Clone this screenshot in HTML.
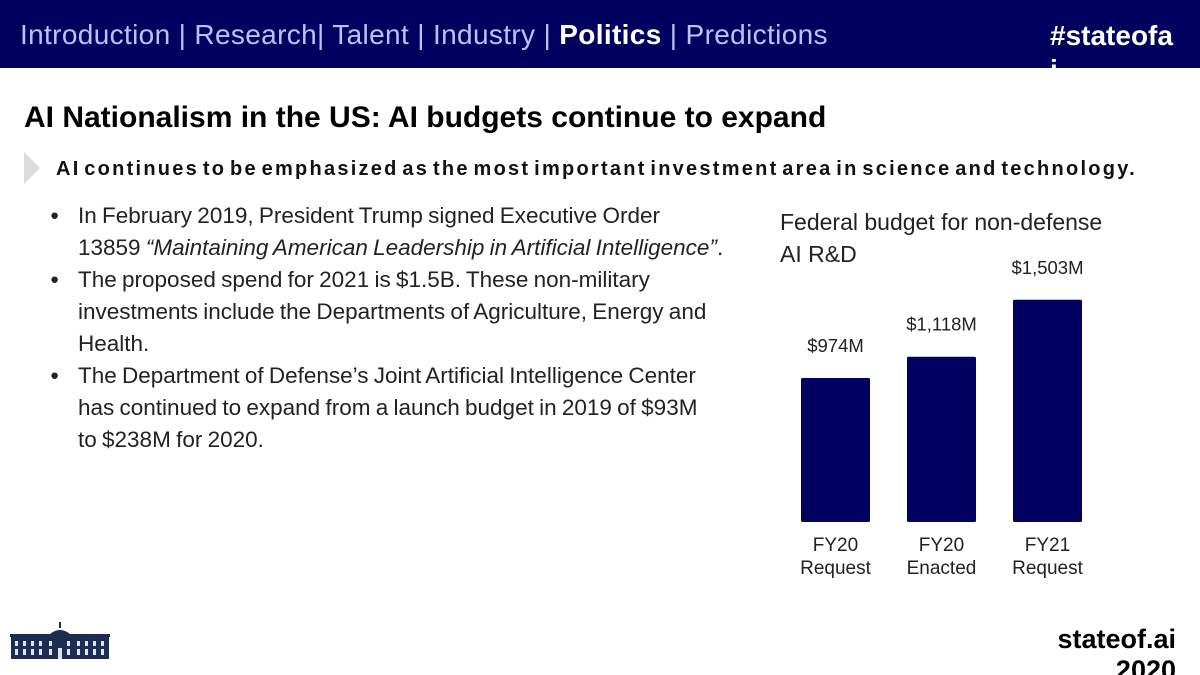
<!DOCTYPE html>
<html><head><meta charset="utf-8"><style>
body{margin:0;width:1200px;height:675px;overflow:hidden;background:#fff;font-family:"Liberation Sans",sans-serif;position:relative}
.hdr{position:absolute;left:0;top:0;width:1200px;height:68px;background:#00005e}
.nav{position:absolute;left:20px;top:19px;font-size:28px;letter-spacing:0.35px;color:#b8c4ff;white-space:nowrap}
.nav b{color:#fff}
.tag{position:absolute;left:1050px;top:19px;font-size:28px;color:#fff;font-weight:bold;width:128px;height:56px;overflow:hidden;line-height:34px}
h1{position:absolute;left:24px;top:101px;margin:0;font-size:30px;font-weight:bold;color:#000}
.sub{position:absolute;left:56px;top:158px;font-size:20px;font-weight:bold;color:#111;letter-spacing:2.25px;word-spacing:-4px;white-space:nowrap}
.tri{position:absolute;left:24px;top:152px;width:0;height:0;border-top:16px solid transparent;border-bottom:16px solid transparent;border-left:16px solid #ddd}
ul{position:absolute;left:48px;top:200px;margin:0;padding:0;width:720px;list-style:none;font-size:22.5px;line-height:32px;color:#222;white-space:nowrap;word-spacing:-1px}
li{position:relative;padding-left:30px}
li:before{content:"●";position:absolute;left:2px;font-size:15px}
.ct{position:absolute;left:780px;top:206px;font-size:23px;line-height:32px;color:#222}
.foot{position:absolute;right:24px;top:624px;font-size:27px;font-weight:bold;color:#000;height:51px;overflow:hidden;width:160px;text-align:right}
</style></head><body>
<div class="hdr"></div>
<div class="nav">Introduction | Research| Talent | Industry | <b>Politics</b> | Predictions</div>
<div class="tag">#stateofa i</div>
<h1>AI Nationalism in the US: AI budgets continue to expand</h1>
<div class="tri"></div>
<div class="sub">AI continues to be emphasized as the most important investment area in science and technology.</div>
<ul>
<li>In February 2019, President Trump signed Executive Order<br>13859 <i>“Maintaining American Leadership in Artificial Intelligence”</i>.</li>
<li>The proposed spend for 2021 is $1.5B. These non-military<br>investments include the Departments of Agriculture, Energy and<br>Health.</li>
<li>The Department of Defense’s Joint Artificial Intelligence Center<br>has continued to expand from a launch budget in 2019 of $93M<br>to $238M for 2020.</li>
</ul>
<div class="ct">Federal budget for non-defense<br>AI R&amp;D</div>
<svg id="chart" width="1200" height="675" style="position:absolute;left:0;top:0"></svg>
<svg style="position:absolute;left:10px;top:620px" width="102" height="42">
<rect x="0" y="14" width="100" height="3" fill="#1c2d50"/>
<path d="M40 14 Q50 6 60 14Z" fill="#1c2d50"/>
<rect x="49" y="2" width="2" height="6" fill="#1c2d50"/>
<rect x="1" y="17" width="98" height="22" fill="#1c2d50"/>
<g fill="#dfe4ee"><rect x="5" y="21" width="3" height="5"/><rect x="13" y="21" width="3" height="5"/><rect x="21" y="21" width="3" height="5"/><rect x="29" y="21" width="3" height="5"/><rect x="39" y="21" width="3" height="5"/><rect x="57" y="21" width="3" height="5"/><rect x="67" y="21" width="3" height="5"/><rect x="75" y="21" width="3" height="5"/><rect x="83" y="21" width="3" height="5"/><rect x="91" y="21" width="3" height="5"/>
<rect x="5" y="29" width="3" height="6"/><rect x="13" y="29" width="3" height="6"/><rect x="21" y="29" width="3" height="6"/><rect x="29" y="29" width="3" height="6"/><rect x="39" y="29" width="3" height="6"/><rect x="48" y="28" width="4" height="11"/><rect x="57" y="29" width="3" height="6"/><rect x="67" y="29" width="3" height="6"/><rect x="75" y="29" width="3" height="6"/><rect x="83" y="29" width="3" height="6"/><rect x="91" y="29" width="3" height="6"/></g>
</svg>
<div class="foot">stateof.ai 2020</div>
<script>
const categories=[["FY20","Request"],["FY20","Enacted"],["FY21","Request"]];
const values=[974,1118,1503];
const valueLabels=["$974M","$1,118M","$1,503M"];
const NS="http://www.w3.org/2000/svg";
const svg=document.getElementById("chart");
const base=522,scale=144/974,x0=801,step=106,bw=69;
const xPos=i=>x0+i*step;
const yPos=v=>base-v*scale;
values.forEach((v,i)=>{
 const r=document.createElementNS(NS,"rect");
 r.setAttribute("x",xPos(i));r.setAttribute("y",yPos(v));
 r.setAttribute("width",bw);r.setAttribute("height",base-yPos(v));
 r.setAttribute("fill","#000060");r.setAttribute("rx","1.5");
 
 
 svg.appendChild(r);
 const t=document.createElementNS(NS,"text");
 t.setAttribute("x",xPos(i)+bw/2);t.setAttribute("y",yPos(v)-26);
 t.setAttribute("text-anchor","middle");t.setAttribute("font-size","18.5");
 t.setAttribute("font-family","Liberation Sans, sans-serif");t.setAttribute("fill","#222");
 t.textContent=valueLabels[i];
 
 
 svg.appendChild(t);
 categories[i].forEach((line,j)=>{
  const c=document.createElementNS(NS,"text");
  c.setAttribute("x",xPos(i)+bw/2);c.setAttribute("y",551+j*23);
  c.setAttribute("text-anchor","middle");c.setAttribute("font-size","19");
  c.setAttribute("font-family","Liberation Sans, sans-serif");c.setAttribute("fill","#222");
  c.textContent=line;
  
  
  svg.appendChild(c);
 });
});
</script>
</body></html>
